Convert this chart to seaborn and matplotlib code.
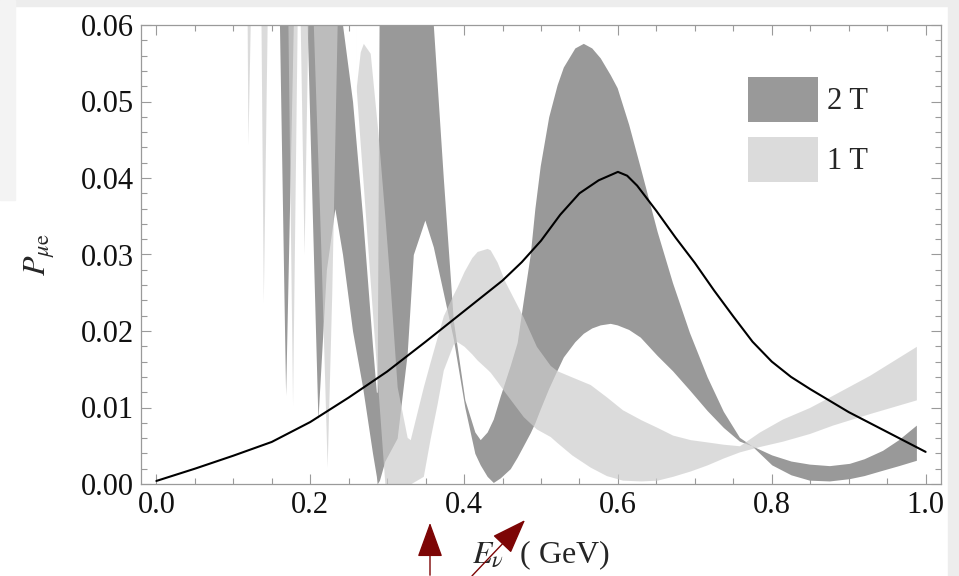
import numpy as np
import matplotlib
matplotlib.use("Agg")
import matplotlib.pyplot as plt
import seaborn as sns
from matplotlib.patches import Patch, Rectangle
from matplotlib.ticker import MultipleLocator

# Black curve (central value)
energy_line = [0.0, 0.05, 0.10, 0.15, 0.20, 0.25, 0.30, 0.35, 0.40, 0.45, 0.475,
               0.50, 0.525, 0.55, 0.575, 0.60, 0.612, 0.625, 0.65, 0.675, 0.70,
               0.725, 0.75, 0.775, 0.80, 0.825, 0.85, 0.90, 0.95, 1.0]
prob_line = [0.0004, 0.0020, 0.0037, 0.0055, 0.0081, 0.0113, 0.0147, 0.0186, 0.0226,
             0.0266, 0.0290, 0.0318, 0.0352, 0.0380, 0.0397, 0.0408, 0.0403, 0.0390,
             0.0357, 0.0322, 0.0289, 0.0253, 0.0219, 0.0186, 0.0160, 0.0140, 0.0124,
             0.0094, 0.0068, 0.0042]

# 2 T band (dark); 0.07 means above the plot window
energy_2t = [0.158, 0.160, 0.168, 0.178, 0.179, 0.195, 0.196, 0.210, 0.221, 0.232,
             0.242, 0.255, 0.268, 0.281, 0.286, 0.287, 0.290, 0.297, 0.313, 0.326,
             0.334, 0.349, 0.360, 0.373, 0.386, 0.401, 0.414, 0.421, 0.430, 0.438,
             0.447, 0.460, 0.469, 0.477, 0.486, 0.492, 0.499, 0.510, 0.521, 0.529,
             0.544, 0.555, 0.566, 0.577, 0.590, 0.599, 0.614, 0.629, 0.651, 0.671,
             0.693, 0.716, 0.737, 0.758, 0.774, 0.800, 0.825, 0.849, 0.875, 0.901,
             0.920, 0.944, 0.965, 0.988]
low_2t = [0.07, 0.060, 0.0116, 0.060, 0.07, 0.07, 0.060, 0.0084, 0.028, 0.036,
          0.030, 0.020, 0.0127, 0.004, 0.001, 0.0, 0.0005, 0.003, 0.006, 0.017,
          0.030, 0.0345, 0.031, 0.025, 0.019, 0.010, 0.004, 0.0025, 0.001, 0.0002,
          0.0008, 0.002, 0.0035, 0.0050, 0.0067, 0.0080, 0.0098, 0.0125, 0.0149, 0.0166,
          0.0186, 0.0197, 0.0204, 0.0208, 0.0210, 0.0208, 0.0202, 0.0192, 0.0168, 0.0148,
          0.0123, 0.0096, 0.0074, 0.0056, 0.0050, 0.0025, 0.0012, 0.0005, 0.0004, 0.0007,
          0.0011, 0.0018, 0.0024, 0.0031]
high_2t = [0.07, 0.07, 0.07, 0.07, 0.07, 0.07, 0.07, 0.07, 0.07, 0.07,
           0.060, 0.050, 0.035, 0.018, 0.012, 0.012, 0.07, 0.07, 0.07, 0.07,
           0.07, 0.07, 0.060, 0.040, 0.0214, 0.011, 0.0068, 0.0058, 0.0068, 0.0085,
           0.0115, 0.0155, 0.0185, 0.0240, 0.0300, 0.0360, 0.0416, 0.0480, 0.0522, 0.0545,
           0.0570, 0.0576, 0.0570, 0.0557, 0.0535, 0.0518, 0.0470, 0.0414, 0.0330, 0.0263,
           0.0198, 0.0140, 0.0095, 0.0061, 0.0050, 0.0038, 0.0030, 0.0026, 0.0024, 0.0027,
           0.0033, 0.0044, 0.0058, 0.0077]

# 1 T band (light)
energy_1t = [0.117, 0.118, 0.119, 0.122, 0.123, 0.135, 0.136, 0.139, 0.144, 0.145,
             0.170, 0.171, 0.177, 0.183, 0.184, 0.186, 0.187, 0.192, 0.197, 0.198,
             0.203, 0.204, 0.214, 0.222, 0.228, 0.235, 0.236, 0.259,
             0.260, 0.265, 0.269, 0.278, 0.288, 0.297, 0.304, 0.313, 0.326, 0.330,
             0.347, 0.356, 0.365, 0.373, 0.386, 0.391, 0.400, 0.410, 0.417, 0.430,
             0.434, 0.443, 0.453, 0.477, 0.494, 0.512, 0.521, 0.540, 0.564, 0.585,
             0.606, 0.630, 0.651, 0.671, 0.694, 0.716, 0.737, 0.758,
             0.784, 0.814, 0.849, 0.879, 0.927, 0.988]
low_1t = [0.07, 0.060, 0.0443, 0.060, 0.07, 0.07, 0.060, 0.0237, 0.060, 0.07,
          0.07, 0.060, 0.0103, 0.060, 0.07, 0.07, 0.060, 0.030, 0.060, 0.07,
          0.07, 0.060, 0.030, 0.0022, 0.025, 0.060, 0.07, 0.07,
          0.0514, 0.0444, 0.039, 0.0264, 0.0125, 0.0, 0.0, 0.0, 0.0, 0.0,
          0.001, 0.006, 0.0105, 0.0149, 0.0183, 0.0186, 0.0180, 0.0170, 0.0162, 0.0150,
          0.0146, 0.0134, 0.0120, 0.0088, 0.0072, 0.0062, 0.0054, 0.0038, 0.0022, 0.0011,
          0.0005, 0.0004, 0.0005, 0.0010, 0.0017, 0.0025, 0.0034, 0.0042,
          0.0049, 0.0056, 0.0066, 0.0077, 0.0092, 0.0110]
high_1t = [0.07, 0.07, 0.07, 0.07, 0.07, 0.07, 0.07, 0.07, 0.07, 0.07,
           0.07, 0.07, 0.07, 0.07, 0.07, 0.07, 0.07, 0.07, 0.07, 0.07,
           0.07, 0.07, 0.07, 0.07, 0.07, 0.07, 0.07, 0.07,
           0.0520, 0.0565, 0.0576, 0.0563, 0.0460, 0.0350, 0.0258, 0.0127, 0.0061, 0.0058,
           0.0127, 0.0160, 0.0192, 0.0220, 0.0248, 0.0258, 0.0278, 0.0296, 0.0304, 0.0308,
           0.0306, 0.0290, 0.0265, 0.0218, 0.0180, 0.0155, 0.0148, 0.0140, 0.0130, 0.0114,
           0.0097, 0.0084, 0.0074, 0.0064, 0.0058, 0.0055, 0.0052, 0.0050,
           0.0068, 0.0085, 0.0100, 0.0116, 0.0142, 0.0180]

sns.set_theme(style="ticks")
plt.rcParams["font.family"] = ["Liberation Serif", "DejaVu Serif"]
plt.rcParams["mathtext.fontset"] = "stix"

fig = plt.figure(figsize=(9.59, 5.76), dpi=100)
fig.patch.set_facecolor("white")
# screenshot frame
fig.patches.append(Rectangle((0, 1 - 6 / 576), 1, 6 / 576, transform=fig.transFigure,
                             color="#ededed", zorder=0))
fig.patches.append(Rectangle((948 / 959, 0), 11 / 959, 1, transform=fig.transFigure,
                             color="#ededed", zorder=0))
fig.patches.append(Rectangle((0, 1 - 200 / 576), 15 / 959, 200 / 576, transform=fig.transFigure,
                             color="#f3f3f3", zorder=0))

ax = fig.add_axes([141 / 959, 1 - 484 / 576, 800 / 959, 459 / 576])

ax.fill_between(energy_2t, low_2t, high_2t, color="#999999", lw=0)
ax.fill_between(energy_1t, low_1t, high_1t, color="#cccccc", alpha=0.69, lw=0)
sns.lineplot(x=energy_line, y=prob_line, color="black", lw=1.5, ax=ax)

ax.set_xlim(-0.02, 1.02)
ax.set_ylim(0, 0.06)
ax.xaxis.set_major_locator(MultipleLocator(0.2))
ax.xaxis.set_minor_locator(MultipleLocator(0.05))
ax.yaxis.set_major_locator(MultipleLocator(0.01))
ax.yaxis.set_minor_locator(MultipleLocator(0.002))
ax.xaxis.set_major_formatter(plt.FormatStrFormatter("%.1f"))
ax.yaxis.set_major_formatter(plt.FormatStrFormatter("%.2f"))

for s in ax.spines.values():
    s.set_color("#9a9a9a")
    s.set_linewidth(0.9)
    s.set_visible(True)
ax.tick_params(which="both", direction="in", top=True, right=True, colors="#9a9a9a",
               labelcolor="#111111", labelsize=22, width=0.8)
ax.tick_params(which="major", length=7, pad=5)
ax.tick_params(which="minor", length=4)

ax.set_xlabel(r"$E_{\nu}$  ( GeV)", fontsize=23, labelpad=13)
ax.set_ylabel(r"$P_{\mu\mathrm{e}}$", fontsize=23, labelpad=17)

handles = [Patch(facecolor="#999999", edgecolor="none"),
           Patch(facecolor="#cccccc", alpha=0.69, edgecolor="none")]
ax.legend(handles, ["2 T", "1 T"], loc="upper left", bbox_to_anchor=(0.759, 0.887),
          frameon=False, fontsize=22, handlelength=2.29, handleheight=1.885,
          labelspacing=0.49, handletextpad=0.3, borderaxespad=0, borderpad=0)

# red arrows drawn over the screenshot
arrow_color = "#7d0505"
ax.annotate("", xy=(430, 56), xytext=(430, -2), xycoords="figure pixels",
            textcoords="figure pixels",
            arrowprops=dict(arrowstyle="-|>,head_length=2.2,head_width=0.8",
                            mutation_scale=10, color=arrow_color, lw=1.0))
ax.annotate("", xy=(527, 58), xytext=(470, -2), xycoords="figure pixels",
            textcoords="figure pixels",
            arrowprops=dict(arrowstyle="-|>,head_length=2.2,head_width=0.8",
                            mutation_scale=10, color=arrow_color, lw=1.0))

fig.savefig("out.png", dpi=100)
